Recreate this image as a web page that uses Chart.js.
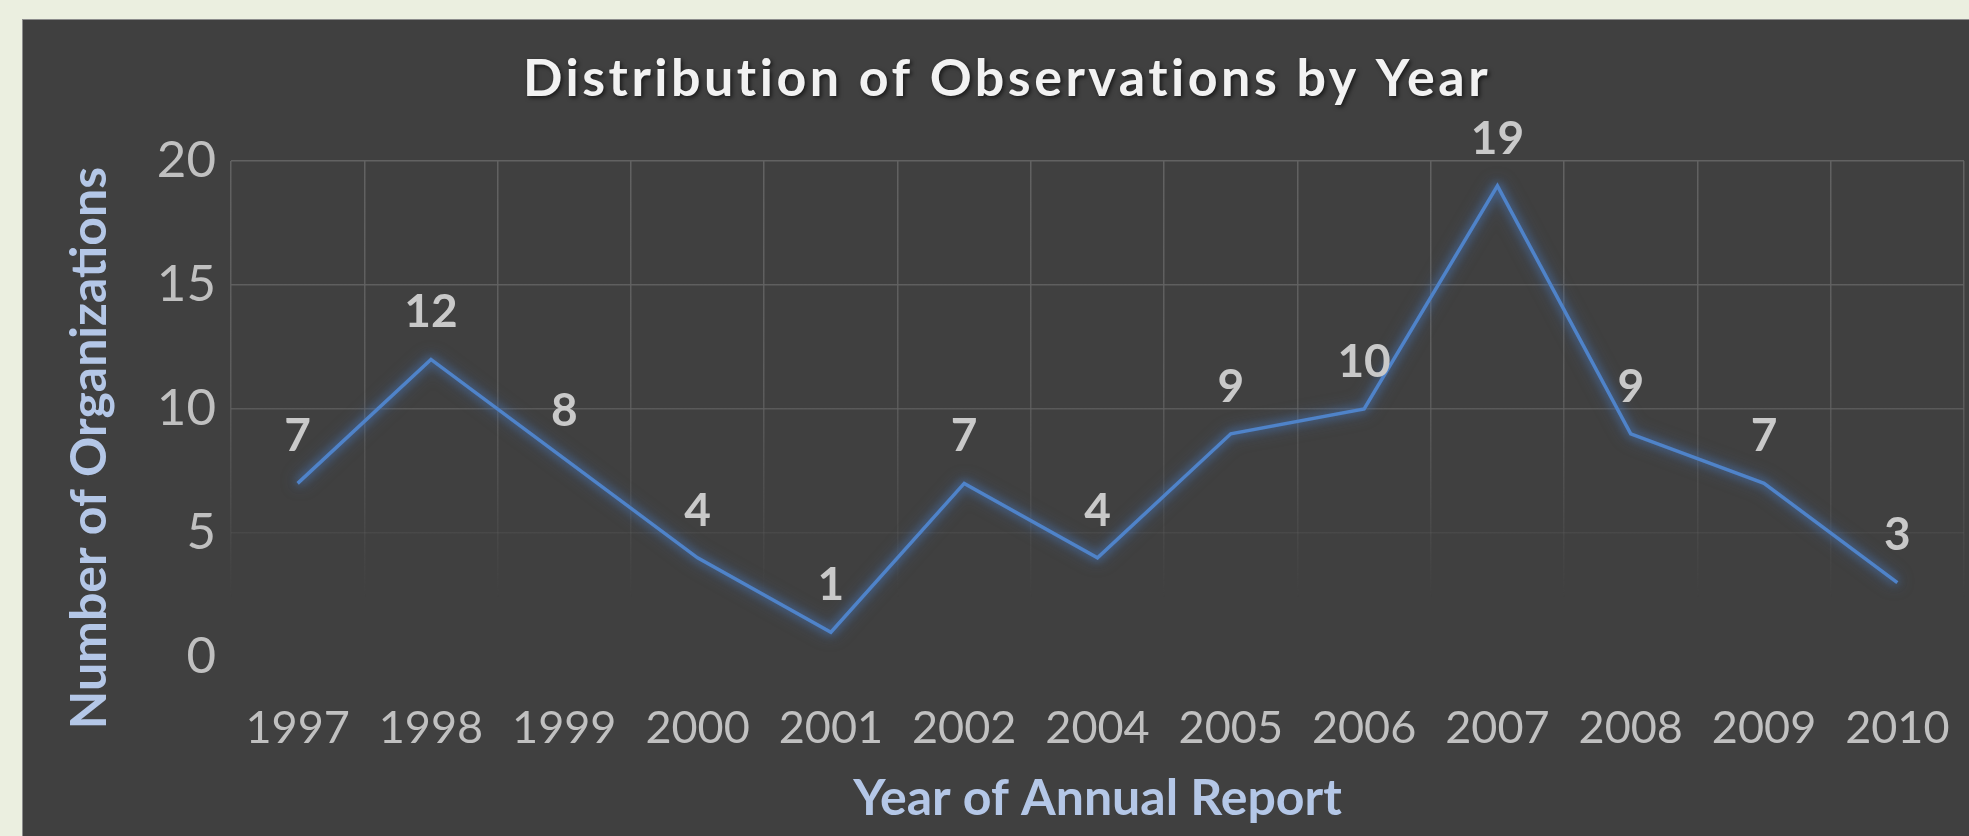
<!DOCTYPE html>
<html>
<head>
<meta charset="utf-8">
<script src="https://cdn.jsdelivr.net/npm/chart.js@4.4.0/dist/chart.umd.min.js"></script>
<style>
  html, body { margin: 0; padding: 0; background: #ebefe0; }
  body { width: 1969px; height: 836px; overflow: hidden; position: relative; }
  #panel {
    position: absolute; left: 22px; top: 19px; width: 1947px; height: 817px;
    background: #404040; border-top: 1px solid #8c8c8c; border-left: 1px solid #8c8c8c;
  }
  #panel canvas { position: absolute; left: 0; top: 0; }
</style>
</head>
<body>
<div id="panel"><canvas id="myChart" width="1946" height="816"></canvas></div>
<script>
// data
const years = ['1997', '1998', '1999', '2000', '2001', '2002', '2004', '2005', '2006', '2007', '2008', '2009', '2010'];
const counts = [7, 12, 8, 4, 1, 7, 4, 9, 10, 19, 9, 7, 3];
const yTicks = [0, 5, 10, 15, 20];

const chartTitle = 'Distribution of Observations by Year';
const xTitle = 'Year of Annual Report';
const yTitle = 'Number of Organizations';

// gridlines fade out toward the bottom
function fadeGrid(context) {
    const chart = context.chart;
    const area = chart.chartArea;
    if (!area) return '#5a5a5a';
    const g = chart.ctx.createLinearGradient(0, area.top, 0, area.bottom);
    g.addColorStop(0, 'rgba(98,98,98,1)');
    g.addColorStop(0.45, 'rgba(98,98,98,0.85)');
    g.addColorStop(0.88, 'rgba(98,98,98,0)');
    g.addColorStop(1, 'rgba(98,98,98,0)');
    return g;
}

// soft blue halo round the line
const glow = {
    id: 'glow',
    beforeDatasetDraw(chart) {
        const c = chart.ctx;
        c.save();
        c.filter = 'drop-shadow(0 0 4px rgba(70,115,180,0.9)) drop-shadow(0 0 7px rgba(70,115,180,0.6))';
    },
    afterDatasetDraw(chart) {
        chart.ctx.restore();
    }
};

const pointLabels = {
    id: 'pointLabels',
    afterDatasetsDraw(chart) {
        const c = chart.ctx;
        const meta = chart.getDatasetMeta(0);
        c.save();
        c.font = 'bold 46px Lato';
        c.fillStyle = '#c9c9c9';
        c.textAlign = 'center';
        c.textBaseline = 'middle';
        meta.data.forEach((pt, i) => {
            c.fillText(String(counts[i]), pt.x, pt.y - 47);
        });
        c.restore();
    }
};

// chart title (letter spaced, with shadow) and the rotated y axis title
const titles = {
    id: 'titles',
    afterDraw(chart) {
        const c = chart.ctx;
        c.save();
        c.textAlign = 'center';
        c.textBaseline = 'middle';
        c.font = 'bold 52px Lato';
        c.letterSpacing = '3.5px';
        c.shadowColor = 'rgba(0,0,0,0.6)';
        c.shadowBlur = 4;
        c.shadowOffsetX = 2;
        c.shadowOffsetY = 2;
        c.fillStyle = '#f2f2f2';
        c.fillText(chartTitle, 984, 59);
        c.restore();

        c.save();
        c.translate(67, 428);
        c.rotate(-Math.PI / 2);
        c.textAlign = 'center';
        c.textBaseline = 'middle';
        c.font = 'bold 50px Lato';
        c.fillStyle = '#b4c7e7';
        c.fillText(yTitle, 0, 0);
        c.restore();
    }
};

let ctx = document.getElementById('myChart').getContext('2d');
let chart = new Chart(ctx, {
    type: 'line',
    data: {
        labels: years,
        datasets: [{
            data: counts,
            borderColor: '#4f83c9',
            borderWidth: 3.5,
            pointRadius: 0,
            tension: 0,
            fill: false
        }]
    },
    options: {
        responsive: false,
        animation: false,
        layout: { padding: { left: 0, right: 5, top: 141, bottom: 0 } },
        plugins: {
            legend: { display: false },
            tooltip: { enabled: false },
            title: { display: false }
        },
        scales: {
            x: {
                offset: true,
                grid: { offset: true, color: fadeGrid, lineWidth: 1.5, drawTicks: false },
                border: { display: false },
                ticks: {
                    color: '#c0c0c0',
                    padding: 44,
                    maxRotation: 0,
                    autoSkip: false,
                    font: { family: 'Lato', size: 45, weight: 'normal' }
                },
                title: {
                    display: true,
                    text: xTitle,
                    color: '#b4c7e7',
                    font: { family: 'Lato', size: 50, weight: 'bold', lineHeight: 1.2 },
                    padding: { top: 0, bottom: 7 }
                },
                afterFit(scale) {
                    scale.height = 179;
                    scale.paddingLeft = 0;
                    scale.paddingRight = 0;
                }
            },
            y: {
                min: 0,
                max: 20,
                afterBuildTicks(scale) { scale.ticks = yTicks.map(v => ({ value: v })); },
                grid: { color: fadeGrid, lineWidth: 1.5, drawTicks: false },
                border: { display: false },
                ticks: {
                    color: '#c0c0c0',
                    padding: 15,
                    font: { family: 'Lato', size: 51, weight: 'normal' }
                },
                afterFit(scale) {
                    scale.width = 208;
                    scale.paddingTop = 0;
                    scale.paddingBottom = 0;
                }
            }
        }
    },
    plugins: [glow, pointLabels, titles]
});
</script>
</body>
</html>
